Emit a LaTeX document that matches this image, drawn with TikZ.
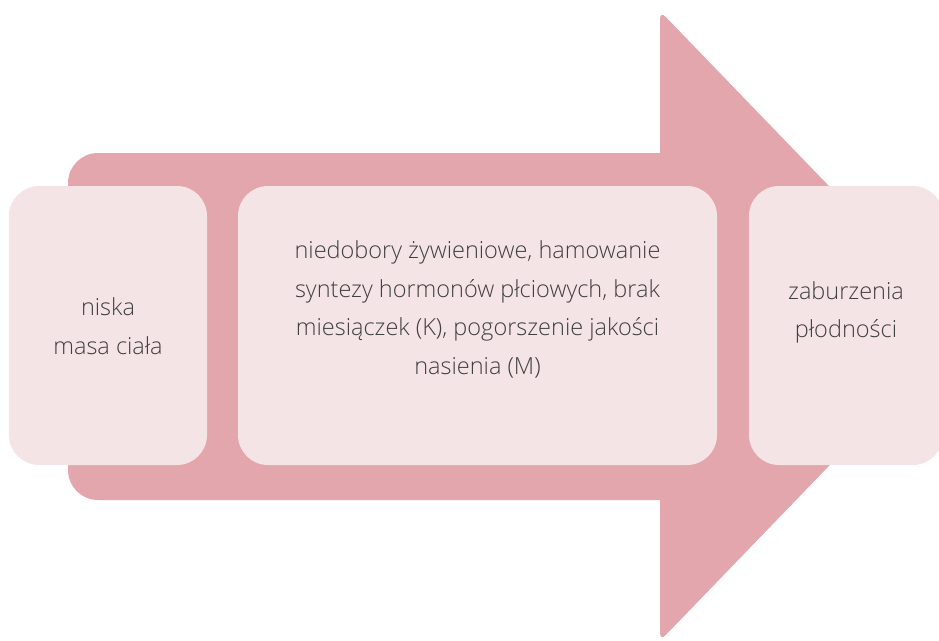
\documentclass[tikz,border=0pt]{standalone}
\usepackage{fontspec}
\setmainfont{Open Sans}[UprightFont=* Light]
\definecolor{arrowpink}{HTML}{E2A6AC}
\definecolor{boxpink}{HTML}{F5E4E6}
\definecolor{txtgray}{HTML}{404040}
\tikzset{
  box/.style={fill=boxpink, draw=none, rounded corners=30pt, rectangle, inner sep=0pt},
  label/.style={text=txtgray, font=\fontsize{23.5}{38.5}\selectfont, align=center, anchor=base, inner sep=0pt}
}
\begin{document}
\begin{tikzpicture}[x=1pt,y=-1pt]
\useasboundingbox (0,0) rectangle (939,640);
\begin{scope}
\clip (0,0) rectangle (939,640);
% arrow body
\fill[arrowpink, rounded corners=30pt] (68,153) rectangle (700,500);
% arrow head
\fill[arrowpink, rounded corners=8pt] (660,11) -- (964,326) -- (660,641) -- cycle;
% boxes
\node[box, minimum width=198pt, minimum height=279pt] (b1) at (108,325.5) {};
\node[box, minimum width=479pt, minimum height=279pt] (b2) at (477.5,325.5) {};
\node[box, minimum width=194pt, minimum height=279pt] (b3) at (846,325.5) {};
\end{scope}
\node[label] (t1) at (108,354) {niska\\masa ciała};
\node[label] (t2) at (477.5,374) {niedobory żywieniowe, hamowanie\\syntezy hormonów płciowych, brak\\miesiączek (K), pogorszenie jakości\\nasienia (M)};
\node[label] (t3) at (846,337.5) {zaburzenia\\płodności};
\end{tikzpicture}
\end{document}
